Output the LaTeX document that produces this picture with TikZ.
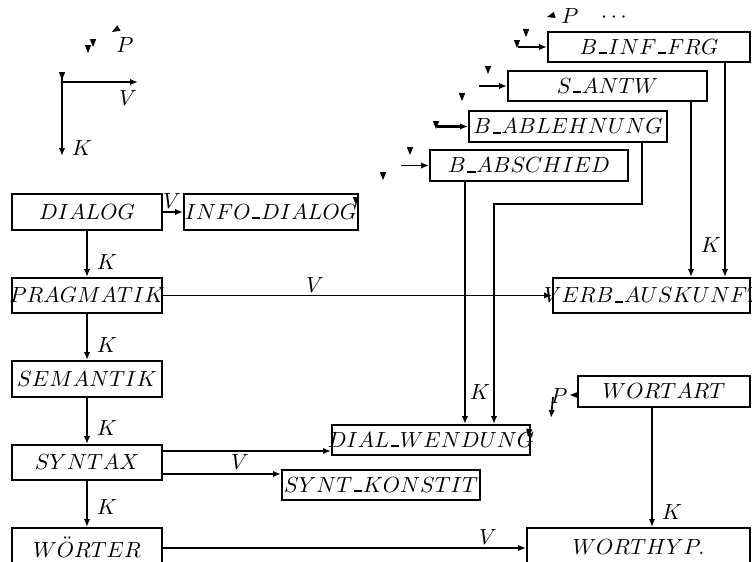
\documentclass[tikz,border=0pt]{standalone}
\usetikzlibrary{arrows.meta,fit}
\newcommand\strayhead[3]{\fill[shift={(#1,#2)},rotate=#3] (0,0) -- (-8,3.2) -- (-8,-3.2) -- cycle;}
\newcommand\usc{\mbox{\kern.08em\vbox{\hrule width.38em height 1pt}\kern.04em}}
\begin{document}
\begin{tikzpicture}[x=0.5pt,y=-0.5pt,
  every node/.style={font=\fontsize{10.6}{12}\selectfont},
  box/.style={draw,line width=0.95pt,inner sep=0pt},
  arr/.style={line width=0.85pt,-{Latex[length=4pt,width=3.2pt]}},
  tarr/.style={line width=1.3pt,-{Latex[length=4pt,width=3.2pt]}},
  lbl/.style={inner sep=0pt}]
\useasboundingbox (0,0) rectangle (752,562);
\clip (0,0) rectangle (752,562);
% boxes
\node[box,fit={(12,194) (162,230)},label={center:$DIALOG$}] (dia) {};
\node[box,fit={(184,194) (358,230)},label={center:$INFO\usc DIALOG$}] (info) {};
\node[box,fit={(12,278) (162,313)},label={center:$PRAGMATIK$}] (prag) {};
\node[box,fit={(12,361) (162,397)},label={center:$SEMANTIK$}] (sem) {};
\node[box,fit={(12,445) (162,480)},label={center:$SYNTAX$}] (syn) {};
\node[box,fit={(12,528) (162,566)},label={center:$W\ddot{O}RTER$}] (wor) {};
\node[box,fit={(548,32) (750,62)},label={center:$B\usc INF\usc FRG$}] (binf) {};
\node[box,fit={(508,71) (707,101)},label={center:$S\usc ANTW$}] (santw) {};
\node[box,fit={(469,111) (667,142)},label={center:$B\usc ABLEHNUNG$}] (babl) {};
\node[box,fit={(430,150) (628,181)},label={center:$B\usc ABSCHIED$}] (babs) {};
\node[box,fit={(553,278) (750,313)},label={[xshift=1pt]center:$VERB\usc AUSKUNFT$}] (verb) {};
\node[box,fit={(332,425) (530,455)},label={center:$DIAL\usc WENDUNG$}] (dialw) {};
\node[box,fit={(282,470) (480,500)},label={center:$SYNT\usc KONSTIT$}] (syntk) {};
\node[box,fit={(578,376) (750,407)},label={center:$WORTART$}] (wart) {};
\node[box,fit={(527,528) (750,566)},label={center:$WORTHYP.$}] (whyp) {};
% legend
\coordinate (lo) at (62,72);
\coordinate (lk) at (62,156);
\coordinate (lh) at (62,82);
\coordinate (lv) at (138,82);
\draw[tarr] (lo) -- (lk);
\draw[tarr] (lh) -- (lv);
\node[lbl] (legV) at (128,98) {$V$};
\node[lbl] (legK) at (82,148) {$K$};
\node[lbl] (legP) at (125,45) {$P$};
% main connectors
\draw[tarr] (dia.east) -- (info.west);
\draw[arr] (dia.south) -- (prag.north);
\draw[arr] (prag.south) -- (sem.north);
\draw[arr] (sem.south) -- (syn.north);
\draw[arr] (syn.south) -- (wor.north);
\draw[arr] (prag.east) -- (verb.west);
\draw[arr] (syn.east |- 0,451) -- (dialw.west |- 0,451);
\draw[arr] (syn.east |- 0,474) -- (syntk.west |- 0,474);
\draw[arr] (wor.east |- 0,548) -- (whyp.west |- 0,548);
\draw[arr] (wart.south -| 652,0) -- (whyp.north -| 652,0);
\draw[arr] (santw.south -| 691,0) -- (verb.north -| 691,0);
\draw[tarr] (binf.south -| 725,0) -- (verb.north -| 725,0);
\draw[tarr] (babl.south -| 642,0) -- (642,204) -- (494,204) -- (dialw.north -| 494,0);
\draw[arr] (babs.south -| 465,0) -- (dialw.north -| 465,0);
% inputs of the top boxes
\coordinate (ibinf) at (518,47);
\coordinate (isantw) at (479,86);
\coordinate (ibabl) at (437,126.5);
\coordinate (ibabs) at (401,165.5);
\draw[tarr] (ibinf) -- (binf.west);
\draw[arr] (isantw) -- (santw.west);
\draw[tarr] (ibabl) -- (babl.west);
\draw[arr] (ibabs) -- (babs.west);
% P arrow near WORTART
\coordinate (pa) at (553,397);
\coordinate (pb) at (551,418);
\draw[arr] (pa) -- (pb);
% labels
\node[lbl] (l1) at (172,201) {$V$};
\node[lbl] (l2) at (107,262) {$K$};
\node[lbl] (l3) at (107,345) {$K$};
\node[lbl] (l4) at (107,428) {$K$};
\node[lbl] (l5) at (107,507) {$K$};
\node[lbl] (l6) at (315,285) {$V$};
\node[lbl] (l7) at (240,462) {$V$};
\node[lbl] (l8) at (488,537) {$V$};
\node[lbl] (l9) at (711,245) {$K$};
\node[lbl] (l10) at (480,392) {$K$};
\node[lbl] (l11) at (672,512) {$K$};
\node[lbl] (l12) at (570,16) {$P$};
\node[lbl] (l13) at (614,18) {$\cdots$};
\node[lbl] (l14) at (559,396) {$P$};
% stray arrowheads
\strayhead{62}{80}{-90}
\strayhead{88}{53}{-90}
\strayhead{93}{47}{-90}
\strayhead{112}{32}{-150}
\strayhead{547}{17}{195}
\strayhead{517}{48}{-90}
\strayhead{526}{37}{-90}
\strayhead{488}{74}{-90}
\strayhead{462}{101}{-90}
\strayhead{436}{129}{-90}
\strayhead{410}{155}{-90}
\strayhead{383}{180}{-90}
\strayhead{356}{205}{-90}
\strayhead{528}{437}{-100}
\strayhead{570}{395}{180}
\end{tikzpicture}
\end{document}
